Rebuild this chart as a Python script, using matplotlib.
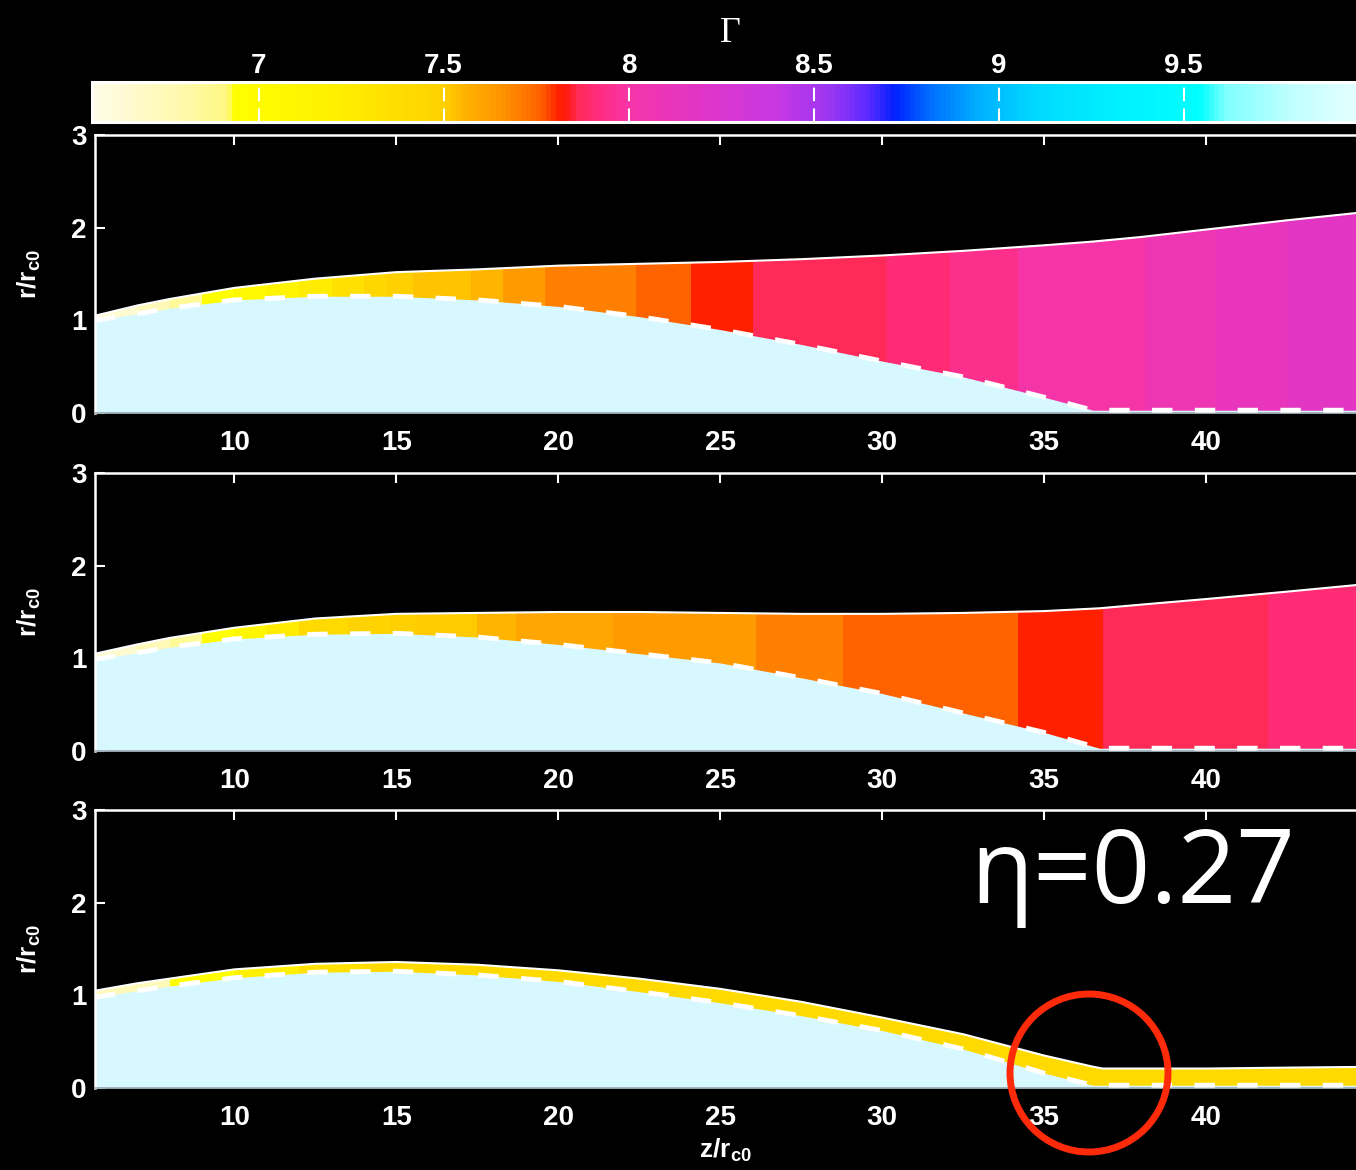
"""
Lorentz factor maps of the jet sheath in three panels, with a shared colour scale on top.
Output: out.png
"""
import numpy as np
import matplotlib
matplotlib.use('Agg')
import matplotlib.pyplot as plt
from matplotlib.colors import LinearSegmentedColormap, Normalize
from matplotlib.cm import ScalarMappable
from matplotlib.patches import PathPatch, Ellipse

plt.rcParams['font.family'] = ['Liberation Sans', 'DejaVu Sans']

# ---- colour scale for Gamma (value, colour) ----
GAMMA_MIN, GAMMA_MAX = 6.55, 10.0
CMAP_NODES = [(6.55, '#FFFBE8'), (6.80, '#FFF9A8'), (6.91, '#FFF880'),
              (6.93, '#FFFF00'), (7.20, '#FFF000'), (7.50, '#FFD000'),
              (7.56, '#FFB000'), (7.63, '#FF9C00'), (7.70, '#FF8000'),
              (7.76, '#FF6000'), (7.81, '#FF1E00'), (7.83, '#FF1A10'),
              (7.86, '#FF2A55'), (7.92, '#FF2C80'), (8.00, '#F535A8'),
              (8.20, '#E035C8'), (8.40, '#C838E2'), (8.55, '#9A36F2'),
              (8.65, '#5A2AFF'), (8.72, '#0020FF'), (8.82, '#0070FF'),
              (8.95, '#00B0FF'), (9.10, '#00D8FF'), (9.30, '#00EEFF'),
              (9.55, '#00FFFF'), (9.62, '#80FFFF'), (9.80, '#C0FFFF'),
              (10.0, '#EAFFFF')]
CBAR_TICKS = [7.0, 7.5, 8.0, 8.5, 9.0, 9.5]
CBAR_LABELS = ['7', '7.5', '8', '8.5', '9', '9.5']

# ---- panel 1 ----
Z1 = [5.7, 7, 8, 10, 12.5, 15, 17.5, 20, 22.5, 25, 27.5, 30, 32.5, 35, 36.5, 38, 40, 42.5, 45.5]
TOP1 = [1.05, 1.16, 1.23, 1.35, 1.45, 1.52, 1.55, 1.59, 1.61, 1.63, 1.66, 1.70, 1.75, 1.81,
        1.85, 1.90, 1.98, 2.08, 2.19]
BOT1 = [1.00, 1.07, 1.13, 1.22, 1.26, 1.26, 1.22, 1.15, 1.04, 0.90, 0.74, 0.56, 0.39, 0.17,
        0.03, 0.03, 0.03, 0.03, 0.03]
EDGES1 = [5.7, 7.0, 8.0, 9.0, 10.0, 11.0, 12.0, 13.0, 14.0, 14.7, 15.5, 17.3, 18.3, 19.6,
          22.4, 24.1, 26.0, 30.1, 32.1, 34.2, 38.1, 40.3, 42.5, 46.0]
GAM1 = [6.65, 6.75, 6.85, 6.95, 7.05, 7.15, 7.25, 7.35, 7.45, 7.50, 7.53, 7.56, 7.64, 7.70,
        7.76, 7.81, 7.86, 7.90, 7.94, 8.00, 8.06, 8.12, 8.18]

# ---- panel 2 ----
Z2 = [5.7, 7, 8, 10, 12.5, 15, 17.5, 20, 22.5, 25, 27.5, 30, 32.5, 35, 36.7, 38, 40, 42.5, 45.5]
TOP2 = [1.05, 1.15, 1.22, 1.33, 1.43, 1.48, 1.49, 1.50, 1.50, 1.49, 1.48, 1.48, 1.49, 1.51,
        1.54, 1.58, 1.64, 1.72, 1.82]
BOT2 = [0.99, 1.06, 1.12, 1.21, 1.26, 1.27, 1.23, 1.15, 1.05, 0.95, 0.79, 0.62, 0.41, 0.20,
        0.03, 0.03, 0.03, 0.03, 0.03]
EDGES2 = [5.7, 7.0, 8.0, 9.0, 10.0, 11.0, 12.0, 13.5, 14.8, 15.6, 17.5, 18.7, 21.7, 26.1,
          28.8, 34.2, 36.8, 41.9, 46.0]
GAM2 = [6.65, 6.75, 6.85, 6.95, 7.10, 7.25, 7.40, 7.47, 7.50, 7.52, 7.55, 7.60, 7.64, 7.70,
        7.76, 7.81, 7.86, 7.90]

# ---- panel 3 ----
Z3 = [5.7, 7, 8, 10, 12.5, 15, 17.5, 20, 22.5, 25, 27.5, 30, 32.5, 35, 36.5, 36.8, 38, 40,
      42.5, 45.5]
TOP3 = [1.05, 1.13, 1.18, 1.28, 1.34, 1.36, 1.33, 1.27, 1.18, 1.07, 0.93, 0.76, 0.58, 0.35,
        0.23, 0.21, 0.21, 0.21, 0.22, 0.23]
BOT3 = [0.98, 1.05, 1.10, 1.19, 1.25, 1.26, 1.22, 1.15, 1.04, 0.92, 0.78, 0.62, 0.42, 0.16,
        0.03, 0.03, 0.03, 0.03, 0.03, 0.03]
EDGES3 = [5.7, 8.0, 10.0, 12.0, 14.0, 46.0]
GAM3 = [6.75, 6.95, 7.20, 7.35, 7.40]

PANELS = [(Z1, TOP1, BOT1, EDGES1, GAM1),
          (Z2, TOP2, BOT2, EDGES2, GAM2),
          (Z3, TOP3, BOT3, EDGES3, GAM3)]

XLIM = (5.7, 45.5)
XTICKS = [10, 15, 20, 25, 30, 35, 40]
YTICKS = [0, 1, 2, 3]
CORE_COLOR = '#D8F8FF'

# ---- layout (pixels of the 1356 x 1170 output) ----
W, H = 1356, 1170
PX_PER_Z = 32.4
PANEL_LEFT, PANEL_H = 95, 278
PANEL_TOPS = [135, 473, 810]
PANEL_W = (XLIM[1] - XLIM[0]) * PX_PER_Z


def box(x0, top, w, h):
    return [x0 / W, 1 - (top + h) / H, w / W, h / H]


cmap = LinearSegmentedColormap.from_list(
    'gamma', [((v - GAMMA_MIN) / (GAMMA_MAX - GAMMA_MIN), c) for v, c in CMAP_NODES])
norm = Normalize(GAMMA_MIN, GAMMA_MAX)

fig = plt.figure(figsize=(W / 100, H / 100), dpi=100, facecolor='black')

for top, (z, rt, rb, edges, gam) in zip(PANEL_TOPS, PANELS):
    ax = fig.add_axes(box(PANEL_LEFT, top, PANEL_W, PANEL_H))
    ax.set_facecolor('black')
    ax.set_axisbelow(True)

    # everything below the outer surface, coloured strip by strip;
    # the core fill then goes on top, so no seam shows at the inner surface
    region = ax.fill_between(z, 0, rt, color='none', lw=0)
    clip = PathPatch(region.get_paths()[0], transform=ax.transData,
                     fc='none', ec='none')
    ax.add_patch(clip)
    cols = [cmap(norm(g)) for g in gam]
    bars = ax.bar(edges[:-1], 3.0, width=np.diff(edges), align='edge',
                  color=cols, edgecolor=cols, linewidth=0.6, zorder=1)
    for b in bars:
        b.set_clip_path(clip)

    ax.fill_between(z, 0, rb, color=CORE_COLOR, lw=0, zorder=1.5)
    ax.plot(z, rt, color='white', lw=1.5, zorder=3)
    ax.plot(z, rb, color='white', lw=3.5, ls=(0, (4.2, 4.6)), zorder=3)

    ax.set_xlim(*XLIM)
    ax.set_ylim(0, 3)
    ax.set_xticks(XTICKS)
    ax.set_yticks(YTICKS)
    ax.tick_params(axis='x', top=True, bottom=True, direction='in', length=7,
                   width=1.5, color='white', labelcolor='white', labelsize=20, pad=12)
    ax.tick_params(axis='y', left=True, right=True, direction='in', length=7,
                   width=1.5, color='white', labelcolor='white', labelsize=20, pad=6)
    for lab in ax.get_xticklabels() + ax.get_yticklabels():
        lab.set_fontweight('bold')
    for side in ('top', 'left', 'right'):
        ax.spines[side].set_color('white')
        ax.spines[side].set_linewidth(1.8)
    ax.spines['bottom'].set_color('#9AA8B0')
    ax.spines['bottom'].set_linewidth(1.2)
    ax.set_ylabel(r'r/r$_{\mathregular{c0}}$', color='white', fontsize=19,
                  fontweight='bold')
    ax.yaxis.set_label_coords(-0.040, 0.5)

fig.text(725 / W, 1 - 1158 / H, r'z/r$_{\mathregular{c0}}$', color='white',
         fontsize=19, fontweight='bold', ha='center', va='baseline')

# ---- colour bar ----
cax = fig.add_axes(box(92, 82, (GAMMA_MAX - GAMMA_MIN) * 370, 40))
cb = fig.colorbar(ScalarMappable(norm=norm, cmap=cmap), cax=cax,
                  orientation='horizontal')
cb.outline.set_edgecolor('white')
cb.outline.set_linewidth(2.2)
cax.xaxis.set_ticks_position('top')
cax.xaxis.set_label_position('top')
cb.set_ticks(CBAR_TICKS, labels=CBAR_LABELS)
cax.tick_params(axis='x', length=0, labelsize=20, labelcolor='white', pad=2)
for lab in cax.get_xticklabels():
    lab.set_fontweight('bold')
for v in CBAR_TICKS:
    cax.axvline(v, color='white', lw=1.5, ls=(0, (6.5, 3.5)))
cb.set_label('Γ', color='white', fontsize=26, family='Liberation Serif', labelpad=8)

# ---- annotations ----
fig.text(970 / W, 1 - 903 / H, 'η=0.27', color='white', fontsize=74,
         family=['Open Sans', 'DejaVu Sans'], ha='left', va='baseline')
fig.add_artist(Ellipse((1089 / W, 1 - 1073 / H), 158 / W, 158 / H,
                       transform=fig.transFigure, fill=False,
                       ec='#FF2A0A', lw=5))

fig.savefig('out.png', dpi=100, facecolor='black')
plt.close(fig)
